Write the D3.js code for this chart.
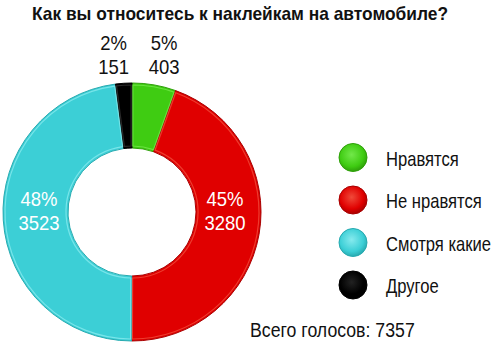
<!DOCTYPE html>
<html>
<head>
<meta charset="utf-8">
<script src="https://cdn.jsdelivr.net/npm/d3@7"></script>
<style>
	body { margin: 0; background: #fff; }
	svg text { font-family: "Liberation Sans", Arial, sans-serif; }
</style>
</head>
<body>
<svg id="chart" width="500" height="344"></svg>
<script>
	//chart data
var categories = ['Нравятся', 'Не нравятся', 'Смотря какие', 'Другое'];
var votes = [403, 3280, 3523, 151];
var percents = ['5%', '45%', '48%', '2%'];
var fills = ['#3fcc12', '#e00000', '#3ccfd6', '#000000'];
var edges = ['#2fa00a', '#a80000', '#28aab0', '#000000'];
var lights = ['#72e84a', '#f04a3a', '#86eaee', '#333333'];
var title = 'Как вы относитесь к наклейкам на автомобиле?';
var totalLabel = 'Всего голосов: ';

var svg = d3.select('#chart');
var cx = 132, cy = 212, rOuter = 129, rInner = 64;

	//squeeze a text horizontally to look like the condensed face of the original
function condense(sel, factor) {
	sel.each(function() {
		var w = this.getComputedTextLength();
		d3.select(this).attr('textLength', w * factor).attr('lengthAdjust', 'spacingAndGlyphs');
	});
}

	//title
svg.append('text')
	.attr('x', 32).attr('y', 20)
	.attr('font-size', 19).attr('font-weight', 'bold')
	.attr('fill', '#111')
	.attr('textLength', 416).attr('lengthAdjust', 'spacingAndGlyphs')
	.text(title);

var pie = d3.pie().sort(null).value(function(d) { return d; });
var arcs = pie(votes);

var arc = d3.arc().innerRadius(rInner).outerRadius(rOuter);
var bevel = d3.arc().innerRadius(rInner + 2).outerRadius(rOuter - 2).padAngle(0.012);

var g = svg.append('g').attr('transform', 'translate(' + cx + ',' + cy + ')');

g.selectAll('path.slice')
	.data(arcs)
	.enter().append('path')
	.attr('class', 'slice')
	.attr('d', arc)
	.attr('fill', function(d, i) { return fills[i]; })
	.attr('stroke', function(d, i) { return edges[i]; })
	.attr('stroke-width', 1);

g.selectAll('path.bevel')
	.data(arcs)
	.enter().append('path')
	.attr('class', 'bevel')
	.attr('d', bevel)
	.attr('fill', 'none')
	.attr('stroke', function(d, i) { return lights[i]; })
	.attr('stroke-width', 1.2)
	.attr('opacity', 0.8);

	//labels inside big slices, above the ring for small ones
arcs.forEach(function(d, i) {
	var mid = (d.startAngle + d.endAngle) / 2;
	var side = Math.sin(mid) < 0 ? -1 : 1;
	var x, y, color;
	if (d.endAngle - d.startAngle > 1) {
		x = side * 93;
		y = -6;
		color = '#fff';
	} else {
		x = Math.sin(mid) * rOuter + side * 10;
		y = -162;
		color = '#111';
	}
	var t = g.append('g')
		.attr('font-size', 21)
		.attr('fill', color);
	t.append('text').attr('text-anchor', 'middle').attr('x', x).attr('y', y).text(percents[i]);
	t.append('text').attr('text-anchor', 'middle').attr('x', x).attr('y', y + 24).text(votes[i]);
	t.selectAll('text').call(condense, 0.88);
});

	//legend
var defs = svg.append('defs');
fills.forEach(function(c, i) {
	var grad = defs.append('radialGradient')
		.attr('id', 'dot' + i)
		.attr('cx', '45%').attr('cy', '40%').attr('r', '60%');
	grad.append('stop').attr('offset', '0%').attr('stop-color', i == 3 ? '#222' : lights[i]);
	grad.append('stop').attr('offset', '70%').attr('stop-color', c);
	grad.append('stop').attr('offset', '100%').attr('stop-color', edges[i]);
});

var legendY = d3.scalePoint().domain(categories).range([157.5, 285]);

var legend = svg.selectAll('g.legend')
	.data(categories)
	.enter().append('g')
	.attr('class', 'legend')
	.attr('transform', function(d) { return 'translate(353,' + legendY(d) + ')'; });

legend.append('circle')
	.attr('r', 14)
	.attr('fill', function(d, i) { return 'url(#dot' + i + ')'; })
	.attr('stroke', function(d, i) { return edges[i]; })
	.attr('stroke-width', 1);

	// scaled with a transform so the box of the text stays narrow too
legend.append('text')
	.attr('transform', 'translate(33,8) scale(0.83,1)')
	.attr('font-size', 20)
	.attr('fill', '#111')
	.text(function(d) { return d; });

svg.append('text')
	.attr('x', 250).attr('y', 337)
	.attr('font-size', 20)
	.attr('fill', '#111')
	.text(totalLabel + d3.sum(votes))
	.call(condense, 0.885);
</script>
</body>
</html>
